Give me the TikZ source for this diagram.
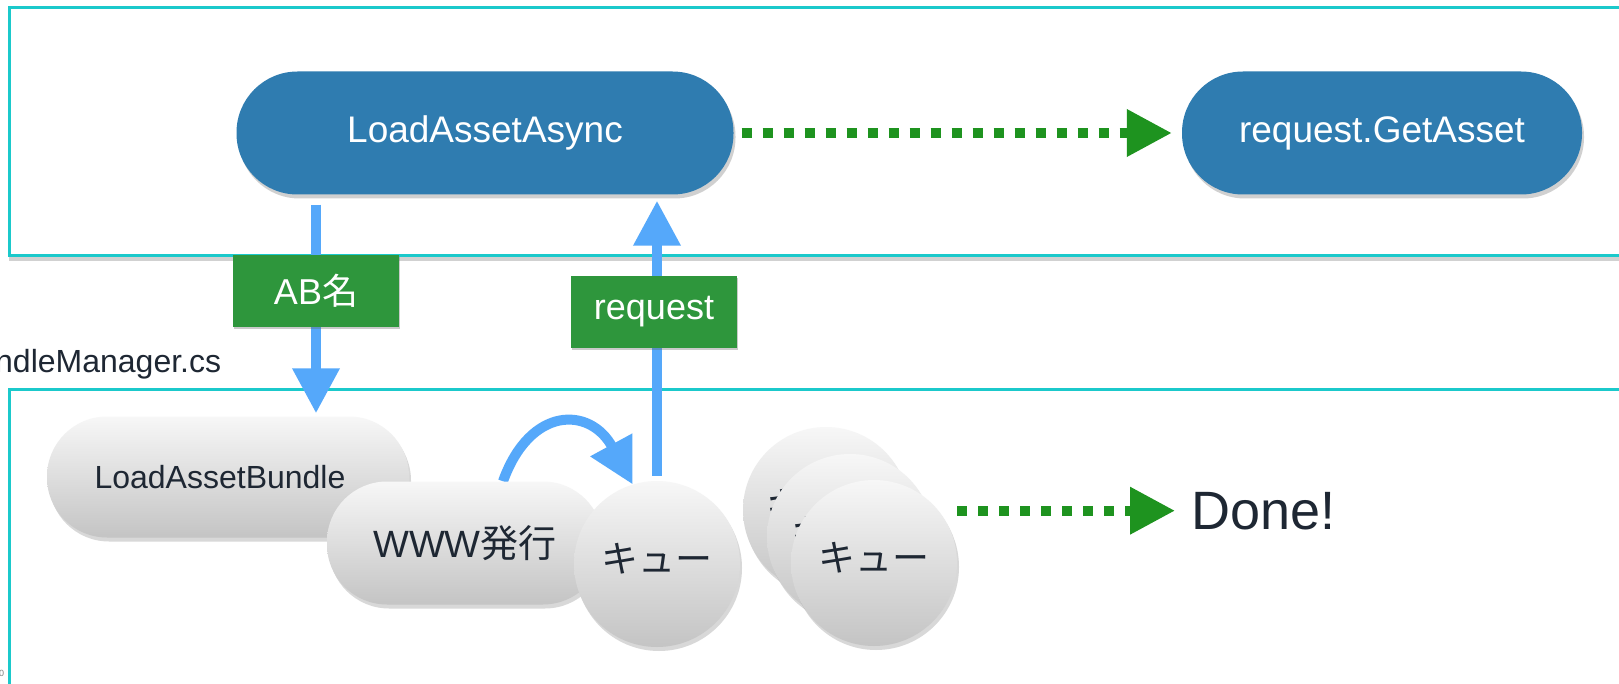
\documentclass[tikz,border=0pt]{standalone}
\usepackage{fontspec}
\setmainfont{Liberation Sans}
\newfontfamily\cjk{Noto Sans CJK JP}
\usetikzlibrary{arrows.meta,shadows}
\definecolor{framecyan}{HTML}{1BC9CB}
\definecolor{pillblue}{HTML}{2F7CB0}
\definecolor{dotgreen}{HTML}{1E931F}
\definecolor{lblgreen}{HTML}{2E963C}
\definecolor{arrblue}{HTML}{55A8FA}
\definecolor{gtop}{HTML}{F7F7F7}
\definecolor{gbot}{HTML}{C4C4C4}
\definecolor{textdark}{HTML}{1E2733}
\pgfdeclarelayer{framelayer}
\pgfdeclarelayer{arrowlayer}
\pgfsetlayers{framelayer,arrowlayer,main}
\begin{document}
\begin{tikzpicture}[x=1pt,y=-1pt,
  frame/.style={draw=framecyan,line width=3pt,fill=white,
    drop shadow={shadow xshift=0pt,shadow yshift=-5pt,opacity=0.3,fill=black!60}},
  bluepill/.style={fill=pillblue,rounded corners=61pt,text=white,inner sep=0pt,
    minimum height=123pt,font=\fontsize{37}{40}\selectfont,
    drop shadow={shadow xshift=2pt,shadow yshift=-4pt,opacity=0.3,fill=black!60}},
  graypill/.style={top color=gtop,bottom color=gbot,rounded corners=60pt,text=textdark,
    inner sep=0pt,font=\fontsize{32}{36}\selectfont,
    drop shadow={shadow xshift=2pt,shadow yshift=-4pt,opacity=0.25,fill=black!60}},
  queue/.style={circle,minimum size=166pt,inner sep=0pt,top color=gtop,bottom color=gbot,
    text=textdark,font=\cjk\fontsize{37}{40}\selectfont,
    drop shadow={shadow xshift=2pt,shadow yshift=-4pt,opacity=0.25,fill=black!60}},
  lbl/.style={fill=lblgreen,text=white,minimum width=166pt,minimum height=72pt,inner sep=0pt,
    font=\fontsize{36}{40}\selectfont,
    drop shadow={shadow xshift=1pt,shadow yshift=-2pt,opacity=0.35,fill=black!60}},
  greendot/.style={draw=dotgreen,line width=10pt,dash pattern=on 10pt off 11pt,
    -{Triangle[length=45pt,width=45pt]}},
  bluearr/.style={draw=arrblue,line width=10pt,-{Triangle[length=45pt,width=45pt]}}
]
\useasboundingbox (0,0) rectangle (1619,684);

\begin{pgfonlayer}{framelayer}
\draw[frame] (9,8) rectangle (1640,256);
\draw[frame] (9,389) rectangle (1640,720);
\end{pgfonlayer}

\node[bluepill,minimum width=497pt] (laa) at (485,133) {LoadAssetAsync};
\node[bluepill,minimum width=400pt] (rga) at (1382,133) {request.GetAsset};
\node[lbl] (ablbl) at (316,291) {AB{\cjk 名}};
\node[lbl] (reqlbl) at (654,312) {request};
\node[graypill,minimum width=362pt,minimum height=121pt] (lab) at (228,477) {LoadAssetBundle\hspace*{16pt}};
\node[graypill,minimum width=276pt,minimum height=123pt,font=\fontsize{38}{40}\selectfont] (www) at (465,543) {WWW{\cjk 発行}};
\node[queue] (q1) at (657,564) {\raisebox{12pt}{キュー}};
\node[queue] (qa) at (826,510) {\raisebox{12pt}{キュー}\hspace*{8pt}};
\node[queue] (qb) at (850,537) {\raisebox{12pt}{キュー}\hspace*{6pt}};
\node[queue] (qc) at (874,563) {\raisebox{12pt}{キュー}};
\node[anchor=base west,inner sep=0pt,font=\fontsize{54}{60}\selectfont,text=textdark] (done) at (1191,529) {Done!};
\node[anchor=base west,inner sep=0pt,font=\fontsize{32}{36}\selectfont,text=textdark] (mgr) at (-5,372) {ndleManager.cs};
\node[anchor=base west,inner sep=0pt,font=\fontsize{9}{10}\selectfont,text=gray] (pg) at (-1,676) {0};

\begin{pgfonlayer}{arrowlayer}
\draw[greendot,shorten <=8pt,shorten >=10pt] (laa) -- (rga);
\draw[bluearr,shorten <=10pt,shorten >=3pt] (laa.south -| ablbl) -- (lab.north -| ablbl);
\draw[bluearr,shorten <=5pt,shorten >=6pt] (q1.north) -- (q1.north |- laa.south);
\draw[bluearr] ([xshift=38pt]www.north) .. controls (530,406) and (590,406) .. (q1.107);
\draw[greendot,shorten >=16pt] (qc.east |- done) -- (done.west);
\end{pgfonlayer}
\end{tikzpicture}
\end{document}
